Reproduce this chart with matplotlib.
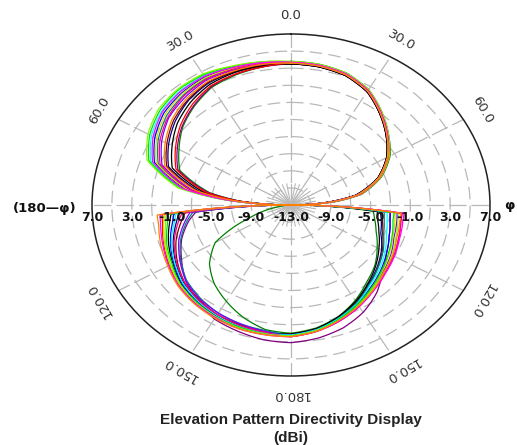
import numpy as np
import matplotlib
matplotlib.use("Agg")
import matplotlib.pyplot as plt
from matplotlib.transforms import offset_copy

# Elevation cut angles (deg, clockwise from zenith) and gain (dBi) of each trace
angles = [0, 10, 20, 30, 40, 50, 60, 70, 80, 85, 90,
          95, 100, 110, 120, 130, 140, 150, 160, 170, 180,
          190, 200, 210, 220, 230, 240, 250, 260, 265, 270,
          275, 280, 290, 300, 310, 320, 330, 340, 350]

trace_orange = [3.6, 3.5, 3.2, 2.4, 1.0, -0.4, -1.7, -3.5, -6.1, -8.9, -13,
                -1.9, -1.9, -1.7, -1.2, -0.8, -0.1, 0.6, 1.3, 2.0, 2.4,
                2.4, 2.4, 2.3, 2.1, 1.8, 1.3, 0.9, 0.5, 0.5, -13,
                -7.3, -3.3, 0.5, 1.6, 2.6, 3.3, 3.7, 3.7, 3.7]
trace_magenta = [3.7, 3.6, 3.3, 2.5, 1.1, -0.3, -1.7, -3.5, -6.0, -8.8, -13,
                 -1.6, -1.6, -1.4, -1.0, -0.6, 0.0, 0.7, 1.4, 2.0, 2.4,
                 2.4, 2.4, 2.2, 2.0, 1.7, 1.2, 0.7, 0.3, 0.2, -13,
                 -6.7, -2.0, 1.8, 3.0, 3.9, 4.3, 4.4, 4.1, 3.9]
trace_red = [3.6, 3.5, 3.2, 2.4, 1.0, -0.4, -1.8, -3.6, -6.2, -9.0, -13,
             -1.8, -1.8, -1.5, -1.1, -0.7, -0.1, 0.7, 1.4, 2.0, 2.4,
             2.3, 2.3, 2.2, 2.0, 1.6, 1.1, 0.6, 0.1, 0.0, -13,
             -7.7, -4.3, -0.7, 0.4, 1.5, 2.4, 3.1, 3.3, 3.4]
trace_lime = [3.8, 3.7, 3.4, 2.6, 1.2, -0.2, -1.6, -3.4, -5.9, -8.6, -13,
              -2.1, -2.1, -1.8, -1.3, -0.8, -0.2, 0.6, 1.3, 1.9, 2.3,
              2.3, 2.3, 2.1, 1.9, 1.5, 1.0, 0.4, -0.2, -0.3, -13,
              -6.5, -1.5, 2.4, 3.6, 4.4, 4.7, 4.7, 4.3, 4.0]
trace_green = [3.7, 3.6, 3.3, 2.5, 1.1, -0.3, -1.6, -3.4, -5.9, -8.7, -13,
               -2.6, -2.6, -2.2, -1.7, -1.1, -0.4, 0.4, 1.2, 1.9, 2.3,
               2.3, 2.2, 2.1, 1.8, 1.5, 0.8, 0.3, -0.4, -0.6, -13,
               -6.6, -1.7, 2.2, 3.4, 4.2, 4.6, 4.6, 4.2, 4.0]
trace_black = [3.5, 3.4, 3.1, 2.3, 0.9, -0.5, -1.9, -3.7, -6.3, -9.2, -13,
               -4.3, -4.2, -3.6, -2.8, -1.9, -1.0, 0.0, 0.9, 1.7, 2.1,
               2.2, 2.2, 2.0, 1.8, 1.4, 0.7, 0.1, -0.6, -0.9, -13,
               -7.6, -4.0, -0.3, 0.8, 1.9, 2.7, 3.3, 3.5, 3.5]
trace_blue = [3.6, 3.5, 3.2, 2.4, 1.0, -0.4, -1.7, -3.5, -6.1, -8.9, -13,
              -3.0, -2.9, -2.5, -1.9, -1.2, -0.5, 0.3, 1.2, 1.8, 2.2,
              2.2, 2.1, 2.0, 1.7, 1.3, 0.6, -0.1, -0.9, -1.2, -13,
              -6.8, -2.2, 1.6, 2.8, 3.7, 4.1, 4.3, 4.1, 3.9]
trace_cyan = [3.7, 3.6, 3.3, 2.5, 1.1, -0.3, -1.7, -3.5, -6.0, -8.8, -13,
              -3.3, -3.2, -2.8, -2.1, -1.4, -0.7, 0.3, 1.1, 1.8, 2.2,
              2.2, 2.1, 1.9, 1.6, 1.2, 0.5, -0.2, -1.1, -1.4, -13,
              -6.7, -1.9, 2.0, 3.2, 4.0, 4.4, 4.5, 4.2, 3.9]
trace_violet = [3.6, 3.5, 3.2, 2.4, 1.0, -0.4, -1.8, -3.6, -6.2, -9.1, -13,
                -2.3, -2.2, -2.0, -1.4, -0.9, -0.3, 0.5, 1.3, 1.9, 2.3,
                2.0, 1.8, 1.6, 1.3, 0.8, -0.1, -1.0, -2.2, -2.8, -13,
                -7.1, -2.9, 0.8, 2.0, 3.0, 3.5, 3.9, 3.8, 3.7]
trace_teal = [3.6, 3.5, 3.2, 2.4, 1.0, -0.4, -1.8, -3.6, -6.2, -9.0, -13,
              -3.6, -3.5, -3.1, -2.3, -1.6, -0.8, 0.2, 1.0, 1.8, 2.2,
              1.9, 1.8, 1.6, 1.2, 0.7, -0.2, -1.2, -2.4, -3.1, -13,
              -7.0, -2.6, 1.2, 2.4, 3.3, 3.8, 4.1, 3.9, 3.8]
trace_darkgreen = [3.8, 3.7, 3.4, 2.6, 1.2, -0.2, -1.5, -3.3, -5.8, -8.5, -13,
                   -4.7, -4.5, -3.9, -3.0, -2.0, -1.2, -0.1, 0.9, 1.6, 2.0,
                   1.8, 1.0, 0.0, -1.0, -2.3, -4.2, -8.5, -11.5, -12.5, -13,
                   -7.9, -4.7, -1.1, 0.0, 1.2, 2.1, 2.9, 3.2, 3.4]
trace_navy = [3.5, 3.4, 3.1, 2.3, 0.9, -0.5, -1.9, -3.7, -6.4, -9.3, -13,
              -4.0, -3.8, -3.4, -2.5, -1.7, -0.9, 0.1, 1.0, 1.7, 2.1,
              2.1, 2.0, 1.9, 1.5, 1.1, 0.4, -0.4, -1.3, -1.7, -13,
              -7.4, -3.6, 0.1, 1.2, 2.2, 3.0, 3.5, 3.6, 3.6]
trace_maroon = [3.5, 3.4, 3.1, 2.3, 0.9, -0.5, -1.9, -3.7, -6.3, -9.2, -13,
                -3.8, -3.7, -3.2, -2.4, -1.6, -0.8, 0.1, 1.0, 1.7, 2.1,
                2.1, 1.9, 1.8, 1.4, 1.0, 0.2, -0.7, -1.8, -2.3, -13,
                -7.3, -3.4, 0.3, 1.4, 2.4, 3.1, 3.6, 3.6, 3.6]
trace_purple = [3.5, 3.4, 3.1, 2.3, 0.9, -0.5, -1.9, -3.7, -6.4, -9.3, -13,
                -3.0, -2.9, -2.5, -1.9, -1.0, 0.4, 1.5, 2.3, 2.8, 3.1,
                3.0, 2.7, 2.4, 1.6, 0.8, -0.3, -1.3, -2.6, -3.4, -13,
                -7.8, -4.5, -0.9, 0.2, 1.3, 2.2, 3.0, 3.3, 3.4]
trace_pink = [3.7, 3.6, 3.3, 2.5, 1.1, -0.3, -1.6, -3.4, -5.9, -8.7, -13,
              -1.8, -1.8, -1.5, -1.1, -0.7, -0.1, 0.7, 1.4, 2.0, 2.4,
              2.1, 2.0, 1.8, 1.5, 1.0, 0.3, -0.5, -1.5, -2.0, -13,
              -7.0, -2.7, 1.0, 2.2, 3.1, 3.7, 4.0, 3.9, 3.8]
trace_yellow = [3.6, 3.5, 3.2, 2.4, 1.0, -0.4, -1.8, -3.6, -6.2, -9.0, -13,
                -2.5, -2.4, -2.1, -1.6, -1.0, -0.3, 0.5, 1.3, 1.9, 2.3,
                2.3, 2.3, 2.2, 1.9, 1.6, 1.0, 0.5, 0.0, -0.2, -13,
                -6.9, -2.4, 1.4, 2.6, 3.5, 4.0, 4.2, 4.0, 3.8]

traces = [
    (trace_darkgreen, "#008000"), (trace_purple, "#800080"), (trace_navy, "#000080"),
    (trace_maroon, "#800000"), (trace_teal, "#008080"), (trace_black, "#000000"),
    (trace_violet, "#8000FF"), (trace_red, "#FF0000"), (trace_blue, "#0000FF"),
    (trace_cyan, "#00FFFF"), (trace_yellow, "#D8D800"), (trace_green, "#00E000"),
    (trace_pink, "#FF0080"), (trace_lime, "#80FF00"), (trace_magenta, "#FF00FF"),
    (trace_orange, "#FF8000"),
]

ring_values = [-11, -9, -7, -5, -3, -1, 1, 3, 5]
radial_labels = ["7.0", "3.0", "-1.0", "-5.0", "-9.0"]
radial_label_values = [7, 3, -1, -5, -9]
angle_label_values = [0, 30, 60, 120, 150, 180, 210, 240, 300, 330]
angle_label_texts = ["0.0", "30.0", "60.0", "120.0", "150.0", "180.0", "150.0", "120.0", "60.0", "30.0"]

R_MIN, R_MAX = -13, 7
W, H = 517, 445

fig = plt.figure(figsize=(W / 100, H / 100), dpi=100)
cx, cy, rx, ry = 291, 205, 199, 171
ax = fig.add_axes([(cx - rx) / W, (H - cy - ry) / H, 2 * rx / W, 2 * ry / H], projection="polar")
ax.set_aspect("auto")
ax.set_theta_zero_location("N")
ax.set_theta_direction(-1)
ax.set_ylim(R_MIN, R_MAX)
ax.grid(False)
ax.set_xticks([])
ax.set_yticks([])
ax.spines["polar"].set_color("#222222")
ax.spines["polar"].set_linewidth(1.1)

grid_color = "#B8B8B8"
full = np.linspace(0, 2 * np.pi, 721)
for v in ring_values:
    ax.plot(full, np.full_like(full, v), color=grid_color, lw=0.9, ls=(0, (10, 5)), zorder=1)
for a in range(0, 360, 30):
    t = np.deg2rad(a)
    ax.plot([t, t], [R_MIN, R_MAX], color=grid_color, lw=0.9, ls=(0, (14, 4)), zorder=1)
for a in range(0, 360, 10):
    t = np.deg2rad(a)
    ax.plot([t, t], [R_MIN, -10.5], color=grid_color, lw=0.8, zorder=1)

theta = np.deg2rad(angles + [360])
for vals, col in traces:
    r = np.clip(np.array(vals + [vals[0]], dtype=float), R_MIN, None)
    (ln,) = ax.plot(theta, r, color=col, lw=0.9, zorder=3)
    # let the polar transform follow the angular sweep between samples
    ln.get_path()._interpolation_steps = 24

# radial scale labels along the horizon
lab_tr = offset_copy(ax.transData, fig=fig, x=0, y=-12, units="dots")
bold = dict(fontsize=9, fontweight="bold", family="DejaVu Sans", color="#111111",
            ha="center", va="center", transform=lab_tr, clip_on=False, zorder=5)
for txt, v in zip(radial_labels, radial_label_values):
    ax.text(np.deg2rad(90), v, txt, **bold)
    ax.text(np.deg2rad(270), v, txt, **bold)
ax.text(0, R_MIN, "-13.0", **bold)

# angle labels around the rim
for a, txt in zip(angle_label_values, angle_label_texts):
    ax.text(np.deg2rad(a), 9.2, txt, rotation=-a, rotation_mode="anchor",
            ha="center", va="center", fontsize=9.5, color="#333333",
            family="DejaVu Sans", clip_on=False)
ax.text(np.deg2rad(90), 8.9, "\u03c6", fontsize=9.5, fontweight="bold", family="DejaVu Sans",
        ha="center", va="center", color="#111111", clip_on=False)
fig.text(45 / W, 1 - 208 / H, "(180\u2014\u03c6)", fontsize=9.5, fontweight="bold",
         family="DejaVu Sans", ha="center", va="center", color="#111111")

fig.text(291 / W, 1 - 420 / H, "Elevation Pattern Directivity Display", fontsize=11,
         fontweight="bold", family="Liberation Sans", ha="center", va="center", color="#222222")
fig.text(291 / W, 1 - 438 / H, "(dBi)", fontsize=11, fontweight="bold",
         family="Liberation Sans", ha="center", va="center", color="#222222")

fig.savefig("out.png", dpi=100)
